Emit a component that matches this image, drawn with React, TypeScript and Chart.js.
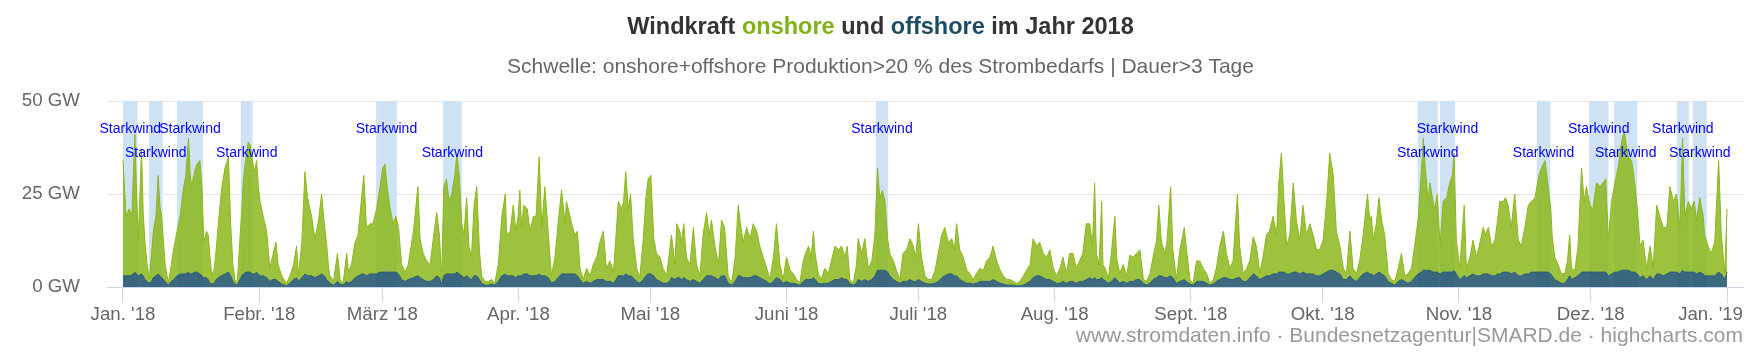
import React, { useEffect, useRef } from "react";
import { Chart, registerables } from "chart.js";

Chart.register(...registerables);

// Day of year 2018 (0 = 1 Jan 00:00)
const days = [
  0, 0.7, 1.4, 2.0, 2.7, 3.1, 3.5, 4.2, 4.6, 5.0,
  5.5, 6.0, 6.5, 6.9, 7.5, 8.0, 8.4, 8.8, 9.6, 10.3,
  11.0, 11.5, 12.3, 13.0, 13.7, 14.3, 14.9, 15.3, 15.6, 16.3,
  16.8, 17.5, 18.0, 18.4, 19.0, 19.4, 19.8, 20.2, 20.8, 21.2,
  21.7, 22.4, 23.2, 24.0, 24.5, 25.0, 25.5, 26.0, 26.6, 27.0,
  27.4, 28.0, 28.5, 29.0, 29.3, 29.9, 30.4, 30.8, 31.2, 31.9,
  32.7, 33.4, 34.0, 34.8, 35.3, 36.1, 37.2, 38.0, 38.8, 39.5,
  39.9, 40.7, 41.4, 42.0, 42.9, 43.7, 44.5, 45.2, 45.8, 46.3,
  46.8, 47.1, 47.9, 48.8, 49.4, 50.1, 50.9, 51.3, 52.0, 52.8,
  53.5, 54.3, 54.8, 55.4, 56.2, 56.9, 57.7, 58.5, 59.1, 59.6,
  60.0, 60.8, 61.5, 62.1, 62.7, 63.4, 64.2, 64.9, 66.1, 67.1,
  67.6, 68.3, 69.1, 69.9, 70.6, 71.4, 72.0, 72.5, 73.0, 73.6,
  74.2, 74.8, 75.5, 76.0, 76.5, 77.1, 77.6, 78.2, 78.7, 79.3,
  79.9, 80.5, 81.1, 81.6, 82.4, 83.1, 83.9, 84.6, 85.4, 86.2,
  87.0, 87.3, 88.1, 88.8, 89.4, 89.9, 90.3, 90.7, 91.2, 92.0,
  92.6, 93.4, 94.0, 94.7, 95.3, 96.0, 96.8, 97.5, 98.3, 99.0,
  99.8, 100.6, 100.9, 101.5, 102.1, 102.8, 103.4, 104.0, 104.7, 105.5,
  106.3, 107.0, 107.8, 108.5, 109.3, 110.0, 110.8, 111.6, 112.2, 112.7,
  113.5, 113.9, 114.4, 115.0, 115.5, 116.1, 116.9, 117.6, 118.4, 119.0,
  119.5, 120.1, 120.8, 121.4, 122.2, 122.9, 123.7, 124.4, 124.8, 125.6,
  126.0, 126.7, 127.1, 127.6, 128.2, 129.0, 129.8, 130.5, 131.3, 132.0,
  132.8, 133.4, 133.9, 134.7, 135.5, 136.2, 136.9, 137.7, 138.5, 139.3,
  140.0, 140.5, 141.1, 141.9, 142.7, 143.4, 144.2, 144.9, 145.7, 146.5,
  147.2, 148.0, 148.7, 149.5, 150.2, 151.0, 151.8, 152.5, 153.3, 154.0,
  154.8, 155.3, 156.0, 156.6, 157.1, 157.5, 158.2, 158.9, 159.7, 160.5,
  161.2, 162.0, 162.8, 163.5, 164.3, 164.8, 165.4, 166.2, 166.9, 167.3,
  168.1, 168.8, 169.6, 170.4, 171.1, 171.7, 172.2, 172.8, 173.4, 174.0,
  174.5, 175.3, 176.0, 176.8, 177.5, 178.3, 179.1, 179.8, 180.4, 181.0,
  181.7, 182.5, 183.2, 184.0, 184.8, 185.5, 186.3, 187.0, 187.8, 188.6,
  189.2, 189.7, 190.4, 191.2, 192.0, 192.7, 193.5, 194.2, 195.0, 195.8,
  196.5, 197.3, 198.0, 198.8, 199.6, 200.3, 201.1, 201.8, 202.6, 203.3,
  204.1, 204.9, 205.6, 206.4, 207.1, 207.9, 208.6, 209.4, 210.2, 210.9,
  211.7, 212.4, 213.2, 213.9, 214.7, 215.4, 216.2, 216.9, 217.7, 218.4,
  219.2, 220.0, 220.6, 221.1, 221.5, 222.1, 222.7, 223.0, 223.7, 224.2,
  224.9, 225.7, 226.1, 226.8, 227.6, 228.4, 229.1, 229.9, 230.6, 231.4,
  232.2, 232.9, 233.7, 234.4, 235.2, 235.7, 236.3, 237.1, 237.6, 238.4,
  238.9, 239.7, 240.5, 241.5, 242.0, 242.8, 243.5, 244.3, 245.0, 245.8,
  246.6, 247.3, 248.1, 248.8, 249.6, 250.4, 251.1, 251.9, 252.6, 253.6,
  254.1, 254.9, 255.7, 256.4, 257.2, 257.9, 258.7, 259.4, 260.2, 260.9,
  261.7, 262.5, 263.0, 263.6, 264.2, 264.8, 265.5, 266.3, 267.0, 267.8,
  268.5, 269.3, 270.1, 270.8, 271.6, 272.3, 273.1, 273.9, 274.6, 275.4,
  276.1, 276.9, 277.7, 278.4, 279.2, 279.9, 280.7, 281.4, 282.2, 283.2,
  283.7, 284.1, 284.5, 285.2, 285.8, 286.4, 287.1, 287.9, 288.6, 289.4,
  290.2, 290.9, 291.7, 292.4, 293.2, 293.9, 294.7, 295.5, 295.9, 296.4,
  297.0, 297.4, 298.1, 298.5, 299.1, 299.7, 300.4, 301.2, 301.9, 302.5,
  302.9, 303.4, 304.2, 305.2, 305.7, 306.5, 307.2, 308.0, 308.8, 309.5,
  310.0, 310.7, 311.4, 312.2, 312.8, 313.3, 314.1, 314.6, 315.2, 315.9,
  316.7, 317.5, 318.2, 319.0, 319.8, 320.5, 321.3, 322.2, 322.8, 323.6,
  324.3, 324.9, 325.2, 325.8, 326.6, 327.3, 328.1, 328.7, 329.2, 329.6,
  330.4, 331.1, 331.9, 332.5, 333.0, 333.8, 334.5, 335.3, 336.1, 336.8,
  337.4, 338.0, 338.7, 339.5, 340.2, 341.0, 341.6, 342.5, 343.3, 344.0,
  344.6, 345.2, 345.9, 346.7, 347.5, 348.2, 349.0, 349.7, 350.5, 351.3,
  352.0, 352.8, 353.5, 354.3, 354.9, 355.4, 356.2, 356.9, 357.5, 358.1,
  358.8, 359.6, 359.9, 360.7, 361.4, 362.2, 363.1, 363.7, 364.5, 365.0,
];

// onshore + offshore production (GW), read from the top edge of the stack
const totalGW = [
  34, 19, 21, 19, 41, 25, 13, 37, 20, 12,
  6, 2, 9, 15, 19, 30, 22, 19, 6, 1,
  6, 10, 15, 19, 26, 30, 40, 30, 27, 31,
  33, 34, 26, 12, 15, 14, 8, 3, 5, 10,
  17, 26, 32, 35, 17, 6, 2, 1, 13, 20,
  29, 35, 39, 38, 35, 31, 34, 27, 23, 19,
  15, 5, 8, 12, 6, 3, 1, 3, 6, 11,
  3, 12, 31, 24, 19, 13, 18, 25, 17, 12,
  5, 3, 1.5, 9, 2, 1, 9, 4, 6, 12,
  14, 24, 30, 16, 17, 17, 21, 27, 32, 33,
  28, 21, 17, 19, 16, 6, 4, 6, 15, 27,
  13, 9, 7, 6, 13, 20, 14, 2, 27, 29,
  23, 25, 30, 36, 30, 17, 14, 24, 11, 8,
  22, 27, 10, 3, 1.5, 1.5, 2, 1, 6, 19,
  25, 14, 15, 22, 15, 19, 26, 16, 22, 21,
  15, 19, 19, 35, 16, 27, 14, 3, 8, 17,
  26, 17, 23, 20, 17, 14, 15, 5, 2, 5,
  3, 6, 8, 12, 15, 5, 7, 4, 14, 23,
  21, 23, 31, 21, 25, 13, 5, 2.5, 13, 24,
  29, 30, 13, 9, 8, 5, 3, 10, 14, 6,
  17, 15, 12, 17, 8, 6, 16, 6, 3, 14,
  20, 14, 18, 11, 6, 18, 16, 3, 1, 8,
  22, 17, 12, 16, 13, 17, 15, 11, 8, 5,
  2, 8, 17, 6, 2, 8, 4.5, 3.6, 2, 1,
  7, 9, 11, 8, 15, 9, 3.6, 2, 5, 3.6,
  7, 11, 10, 11, 8, 11, 2, 1, 6, 13,
  9, 13, 5, 7, 14, 32, 24, 26, 23, 13,
  9, 7, 4.5, 2, 9, 10, 13, 11, 8, 17,
  8, 3, 2, 2, 4.5, 9, 14, 16, 12, 13,
  10, 17, 10, 8, 4.5, 3.6, 2, 3.6, 5, 4.5,
  7, 8, 11, 7, 4.5, 3, 2, 2, 1.5, 1,
  1.5, 3, 4.5, 6, 13, 11, 12, 9, 8, 10,
  5, 3, 5, 8, 3.6, 9, 9, 5, 7, 9,
  17, 17, 11, 28, 9, 6, 23, 6, 4.5, 2,
  9, 19, 8, 3.6, 6, 3, 8.5, 8, 9, 10,
  2, 1.5, 3.6, 8, 12.6, 22, 12, 9, 12.6, 27,
  10, 2, 10, 16, 10, 2, 1, 7, 7, 5,
  3.6, 1, 2, 5, 11, 15, 9, 5, 7, 25,
  11, 3.6, 5, 7, 13.5, 11, 3.6, 8, 14, 15,
  19, 14, 28, 36, 23, 11, 14, 28, 18, 12.6,
  22, 14, 17, 14, 10, 10, 12.6, 23, 36, 30,
  15, 11, 5, 3.6, 15, 5, 3.6, 7, 14, 25,
  18, 19, 12.6, 17, 24, 18, 14, 3.6, 2, 1.5,
  5, 9, 3, 3.6, 5, 11, 18, 32, 40, 31,
  23, 28, 23, 21, 25, 11, 23, 24, 28, 30,
  36, 12.6, 5, 22, 5, 8, 12.6, 8, 12, 16,
  14, 16, 11, 12.6, 18, 23, 23, 24, 22, 16,
  25, 12.6, 11, 16, 22, 23, 24, 30, 32, 34,
  27, 21, 14, 8, 6, 3.6, 3.6, 7, 14, 5,
  4.5, 11, 32, 23, 27, 22, 21, 28, 27, 28,
  29, 12.6, 23, 28, 32, 39, 42, 35, 34, 28,
  21, 11, 12.6, 5, 11, 5, 22, 19, 16, 16,
  27, 23, 25, 16, 40, 19, 23, 21, 23, 18,
  24, 19, 14, 11, 9, 12, 34, 14, 3.6, 21,
];

// offshore production (GW)
const offshoreGW = [
  3, 3, 3, 3.2, 4, 3.5, 3, 3.5, 3, 2,
  1.5, 1, 1.5, 2.5, 3, 3.5, 3, 2.5, 1.5, 0.5,
  1.5, 2, 3, 3.5, 3.5, 3.5, 4, 3.5, 3.5, 4,
  4, 3.5, 3, 2.5, 2.5, 2, 1, 0.8, 1, 2,
  2.5, 3, 3.5, 4, 3, 1.5, 0.8, 0.5, 2, 3,
  3.5, 4, 4, 4, 3.5, 3.5, 4, 3.5, 3, 3,
  2.5, 1.5, 2, 2, 1.5, 0.8, 0.3, 1, 2, 2.5,
  1.5, 2.5, 3.5, 3, 3, 2.5, 3, 3.5, 3, 2,
  1.5, 1, 0.5, 1.5, 0.8, 0.5, 1.5, 1, 1.5, 2.5,
  3, 3.5, 3.5, 3, 3.5, 3.5, 3.5, 4, 4, 4,
  4, 4, 4, 4, 3.5, 2, 1.5, 2, 2.5, 3,
  2.5, 2, 1.5, 1.5, 2, 3, 2.5, 0.8, 3, 3.5,
  3.5, 3.5, 3.5, 4, 3.5, 3, 2.5, 3, 2.5, 2,
  3, 3, 2, 1, 0.5, 0.5, 0.8, 0.5, 1.5, 3,
  3.5, 3, 3, 3, 2.5, 3, 3, 3, 3.5, 3.5,
  3, 3, 3, 3.5, 3, 3, 2.5, 1, 1.5, 2.5,
  3.5, 3.5, 3.5, 3.5, 3.5, 3.5, 3, 2, 1, 1.5,
  1, 1.5, 2, 2, 2, 1.5, 1.5, 1, 2, 3,
  3, 3, 3.5, 3, 3, 2.5, 1.5, 1, 2, 3,
  3.5, 3.5, 3, 2, 1.5, 1, 1, 1.5, 2.5, 2,
  2.5, 2.5, 2, 2.5, 2, 1.5, 2, 1.5, 1, 2,
  3, 3, 3, 2.5, 2, 3, 3, 1, 0.5, 1.5,
  3, 3, 2.5, 2.5, 2.5, 3, 3, 2.5, 2, 1.5,
  0.8, 1.5, 2.5, 2, 1, 1.5, 1, 1, 0.8, 0.5,
  1.5, 2, 2, 2, 2.5, 2, 1, 0.8, 1, 1,
  1.5, 2, 2, 2.5, 2, 2, 0.8, 0.5, 1, 2,
  1.5, 2, 1.5, 2, 3, 4.5, 4.5, 4.5, 4.5, 4,
  3, 2, 1.5, 1, 1.5, 1.5, 2, 1.5, 1.5, 2,
  1.5, 1, 0.8, 0.8, 1, 1.5, 2.5, 3, 3.5, 3.5,
  3, 3, 2, 1.5, 1, 1, 0.8, 1, 1.5, 1.5,
  1.5, 1.5, 2, 1.5, 1, 0.8, 0.5, 0.5, 0.5, 0.3,
  0.3, 0.5, 1, 1.5, 2.5, 3, 3, 2.5, 2, 2,
  1.5, 1, 1, 1.5, 1, 1.5, 1.5, 1, 1.5, 1.5,
  2, 2.5, 2, 2.5, 2, 2, 2.5, 2, 1.5, 1,
  1.5, 2.5, 2, 1, 1.5, 1, 1.5, 1.5, 2, 2,
  1, 0.5, 1, 2, 2.5, 3, 3, 2.5, 2.5, 3,
  2.5, 1, 1.5, 2, 1.5, 0.8, 0.5, 1.5, 1.5, 1.5,
  1, 0.5, 0.8, 1.5, 2, 2.5, 2.5, 2, 2, 2.5,
  2.5, 1.5, 1.5, 2.5, 3.5, 3, 2, 2.5, 3, 3,
  3.5, 3.5, 4, 4, 4, 3.5, 3.5, 4, 4, 3.5,
  4, 3.5, 3.5, 3.5, 3, 3, 3.5, 4, 4.5, 4.5,
  4, 3.5, 2, 2, 3, 2, 1.5, 2.5, 3.5, 4,
  3.5, 3.5, 3, 3.5, 4, 3.5, 3, 1.5, 1, 0.5,
  1.5, 2, 1.5, 1, 1.5, 2.5, 3.5, 4, 4.5, 4.5,
  4.5, 4.5, 4, 4, 4, 3.5, 4, 4, 4, 4,
  4.5, 3.5, 2, 3, 2.5, 3, 3.5, 3, 3, 3.5,
  3.5, 3.5, 3, 3, 3.5, 3.5, 4, 4, 4, 3.5,
  4, 3, 3, 3.5, 3.5, 4, 4, 4, 4, 4,
  4, 3.5, 3, 2, 1.5, 1, 1, 2, 3, 2,
  2.5, 3, 4, 4, 4, 4, 4, 4, 4, 4,
  4, 3, 3.5, 4, 4, 4.5, 4.5, 4.5, 4, 4,
  3.5, 2.5, 3, 2, 3, 2, 3.5, 3.5, 3, 3.5,
  4, 4, 4, 3.5, 4.5, 4, 4, 4, 4, 3.5,
  4, 3.5, 3, 3, 3, 3, 4, 3.5, 2, 4,
];

// x axis: month starts (day of year) and their labels
const monthStartDays = [0, 31, 59, 90, 120, 151, 181, 212, 243, 273, 304, 334, 365];
const monthLabels = [
  "Jan. '18", "Febr. '18", "März '18", "Apr. '18", "Mai '18", "Juni '18",
  "Juli '18", "Aug. '18", "Sept. '18", "Okt. '18", "Nov. '18", "Dez. '18", "Jan. '19",
];
const yTickValues = [0, 25, 50];

// "Starkwind" periods (day of year)
const bandFrom = [0.0, 5.9, 12.3, 26.8, 57.6, 72.8, 171.3, 294.6, 299.7, 321.7, 333.6, 339.3, 353.6, 357.2];
const bandTo = [3.3, 9.0, 18.2, 29.5, 62.3, 77.1, 174.1, 299.2, 303.1, 324.8, 338.0, 344.6, 356.3, 360.4];
const bandLabel = "Starkwind";

const FONT = '"Liberation Sans", Arial, Helvetica, sans-serif';
const GREEN_TEXT = "#7fb218";
const DARK_TEXT = "#1c4c63";

const bandsPlugin = {
  id: "starkwindBands",
  beforeDatasetsDraw(chart: any) {
    const { ctx, chartArea, scales } = chart;
    const x = scales.x;
    ctx.save();
    ctx.fillStyle = "#cfe2f4";
    for (let i = 0; i < bandFrom.length; i++) {
      const x1 = x.getPixelForValue(bandFrom[i]);
      const x2 = x.getPixelForValue(bandTo[i]);
      ctx.fillRect(x1, chartArea.top, x2 - x1, chartArea.bottom - chartArea.top);
    }
    ctx.restore();
  },
  afterDatasetsDraw(chart: any) {
    const { ctx, chartArea, scales } = chart;
    const x = scales.x;
    ctx.save();
    ctx.fillStyle = "#0000ff";
    ctx.font = `14px ${FONT}`;
    ctx.textAlign = "center";
    ctx.textBaseline = "middle";
    for (let i = 0; i < bandFrom.length; i++) {
      const cx = (x.getPixelForValue(bandFrom[i]) + x.getPixelForValue(bandTo[i])) / 2;
      const cy = chartArea.top + (i % 2 === 0 ? 28 : 52);
      ctx.fillText(bandLabel, cx, cy);
    }
    ctx.restore();
  },
};

const textPlugin = {
  id: "titleCredits",
  afterDraw(chart: any) {
    const { ctx, chartArea, scales } = chart;
    const W = chart.width;
    ctx.save();
    // x-axis month labels (last one kept inside the plot, like the original)
    const x = scales.x;
    ctx.font = `18.7px ${FONT}`;
    ctx.fillStyle = "#666666";
    ctx.textAlign = "left";
    ctx.textBaseline = "alphabetic";
    for (let i = 0; i < monthStartDays.length; i++) {
      const label = monthLabels[i];
      const w = ctx.measureText(label).width;
      let left = x.getPixelForValue(monthStartDays[i]) - w / 2;
      if (left + w > chartArea.right) left = chartArea.right - w;
      ctx.fillText(label, left, 320);
    }
    // title with coloured words
    const parts: [string, string][] = [
      ["Windkraft ", "#333333"],
      ["onshore", GREEN_TEXT],
      [" und ", "#333333"],
      ["offshore", DARK_TEXT],
      [" im Jahr 2018", "#333333"],
    ];
    ctx.font = `bold 23.5px ${FONT}`;
    ctx.textBaseline = "middle";
    ctx.textAlign = "left";
    const total = parts.reduce((s, p) => s + ctx.measureText(p[0]).width, 0);
    let tx = W / 2 - total / 2;
    for (const [t, c] of parts) {
      ctx.fillStyle = c;
      ctx.fillText(t, tx, 28);
      tx += ctx.measureText(t).width;
    }
    // subtitle
    ctx.font = `21px ${FONT}`;
    ctx.fillStyle = "#666666";
    ctx.textAlign = "center";
    ctx.fillText(
      "Schwelle: onshore+offshore Produktion>20 % des Strombedarfs | Dauer>3 Tage",
      W / 2,
      67
    );
    // credits
    ctx.font = `21px ${FONT}`;
    ctx.fillStyle = "#999999";
    ctx.textAlign = "right";
    ctx.fillText(
      "www.stromdaten.info · Bundesnetzagentur|SMARD.de · highcharts.com",
      chartArea.right,
      336
    );
    ctx.restore();
  },
};

export default function App() {
  const ref = useRef<HTMLCanvasElement | null>(null);

  useEffect(() => {
    if (!ref.current) return;
    const offshoreData = days.map((d, i) => ({ x: d, y: offshoreGW[i] }));
    const onshoreData = days.map((d, i) => ({ x: d, y: Math.max(0, totalGW[i] - offshoreGW[i]) }));

    const chart = new Chart(ref.current, {
      type: "line",
      data: {
        datasets: [
          {
            label: "offshore",
            data: offshoreData,
            fill: "origin",
            backgroundColor: "rgba(30,82,106,0.86)",
            borderColor: "#2b5d73",
            borderWidth: 1,
            pointRadius: 0,
            tension: 0,
          },
          {
            label: "onshore",
            data: onshoreData,
            fill: "-1",
            backgroundColor: "rgba(140,183,28,0.85)",
            borderColor: "#8cb71c",
            borderWidth: 1,
            pointRadius: 0,
            tension: 0,
          },
        ],
      },
      options: {
        animation: false,
        responsive: false,
        devicePixelRatio: 1,
        layout: { padding: { top: 101, right: 18, left: 0, bottom: 0 } },
        plugins: {
          legend: { display: false },
          tooltip: { enabled: false },
          title: { display: false },
        },
        scales: {
          x: {
            type: "linear",
            min: -3.64,
            max: 368.64,
            afterBuildTicks: (s: any) => {
              s.ticks = monthStartDays.map((v) => ({ value: v }));
            },
            afterFit: (s: any) => {
              s.height = 65;
            },
            grid: {
              drawOnChartArea: false,
              drawTicks: true,
              tickLength: 16,
              tickColor: "#ccd6eb",
              lineWidth: 1,
            },
            border: { color: "#ccd6eb", width: 1 },
            ticks: {
              display: false,
              autoSkip: false,
              maxRotation: 0,
              minRotation: 0,
            },
          },
          y: {
            stacked: true,
            min: 0,
            max: 50,
            afterBuildTicks: (s: any) => {
              s.ticks = yTickValues.map((v) => ({ value: v }));
            },
            afterFit: (s: any) => {
              s.width = 107;
            },
            grid: { color: "#e6e6e6", drawTicks: false, lineWidth: 1 },
            border: { display: false },
            ticks: {
              padding: 27,
              color: "#666666",
              font: { family: FONT, size: 18.7 },
              callback: (v: any) => `${v} GW`,
            },
          },
        },
      },
      plugins: [bandsPlugin, textPlugin],
    } as any);

    return () => chart.destroy();
  }, []);

  return (
    <div style={{ position: "absolute", left: 0, top: 0, width: 1761, height: 352, background: "#fff" }}>
      <canvas ref={ref} width={1761} height={352} style={{ display: "block" }} />
    </div>
  );
}
